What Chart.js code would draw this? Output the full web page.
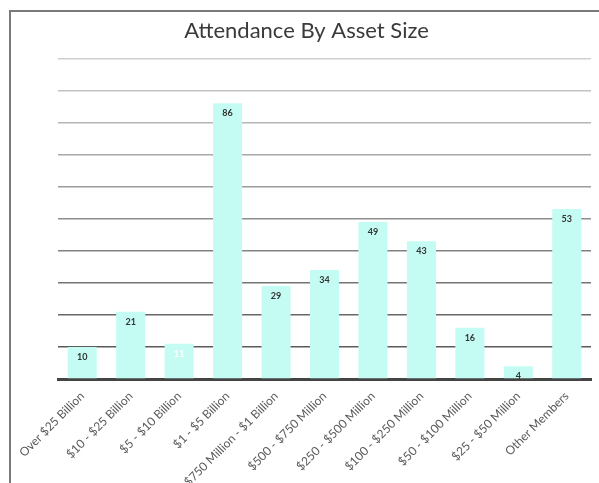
<!DOCTYPE html>
<html>
<head>
<meta charset="utf-8">
<script src="https://cdn.jsdelivr.net/npm/chart.js@4"></script>
<style>
  html, body { margin: 0; padding: 0; background: #fff; }
  #wrap { position: relative; width: 599px; height: 483px; }
  #frame { position: absolute; left: 9px; top: 10px; right: 0; bottom: 0;
           border-left: 2px solid #7a7a7a; border-top: 2px solid #7a7a7a; }
  canvas { position: absolute; left: 0; top: 0; }
</style>
</head>
<body>
<div id="wrap">
  <div id="frame"></div>
  <canvas id="bar-chart" width="599" height="483"></canvas>
</div>
<script>
// asset size categories and attendance count
const sizeLabels = ["Over $25 Billion", "$10 - $25 Billion", "$5 - $10 Billion", "$1 - $5 Billion",
  "$750 Million - $1 Billion", "$500 - $750 Million", "$250 - $500 Million", "$100 - $250 Million",
  "$50 - $100 Million", "$25 - $50 Million", "Other Members"];
const attendance = [10, 21, 11, 86, 29, 34, 49, 43, 16, 4, 53];
const yTicks = [0, 10, 20, 30, 40, 50, 60, 70, 80, 90, 100];

// numbers drawn inside the top of each bar
const valueLabels = {
  id: "valueLabels",
  afterDatasetsDraw(chart) {
    const ctx = chart.ctx;
    const meta = chart.getDatasetMeta(0);
    ctx.save();
    ctx.font = "bold 9px Lato";
    ctx.textAlign = "center";
    ctx.textBaseline = "middle";
    meta.data.forEach((bar, i) => {
      ctx.fillStyle = attendance[i] === 11 ? "#ffffff" : "#333333";
      ctx.fillText(attendance[i], bar.x, bar.y + 10);
    });
    ctx.restore();
  }
};

new Chart("bar-chart", {
  type: "bar",
  data: {
    labels: sizeLabels,
    datasets: [{
      data: attendance,
      backgroundColor: "#c4fcf3",
      barPercentage: 0.6,
      categoryPercentage: 1.0
    }]
  },
  plugins: [valueLabels],
  options: {
    responsive: false,
    animation: false,
    layout: { padding: { left: 22, right: 8, top: 0, bottom: 0 } },
    plugins: {
      legend: { display: false },
      tooltip: { enabled: false },
      title: {
        display: true,
        text: "Attendance By Asset Size",
        color: "#3a3a3a",
        font: { family: "Lato", size: 22, weight: "normal" },
        padding: { top: 18, bottom: 14 }
      }
    },
    scales: {
      y: {
        min: 0, max: 100,
        afterBuildTicks: (scale) => { scale.ticks = yTicks.map(v => ({ value: v })); },
        afterFit: (scale) => { scale.width = 36; },
        ticks: { display: false },
        border: { display: false },
        grid: {
          drawTicks: false,
          color: (c) => {
            if (c.tick.value === 0) return "rgba(0,0,0,0)";
            const g = Math.round(90 + (c.tick.value - 10) * 1.3);
            return "rgb(" + g + "," + g + "," + g + ")";
          },
          lineWidth: 1.5
        }
      },
      x: {
        afterFit: (scale) => { scale.height = 104; },
        grid: { display: false },
        border: { display: true, color: "#444", width: 3 },
        ticks: {
          color: "#5a5a5a",
          font: { family: "Lato", size: 12 },
          minRotation: 45, maxRotation: 45,
          padding: 2
        }
      }
    }
  }
});
</script>
</body>
</html>
